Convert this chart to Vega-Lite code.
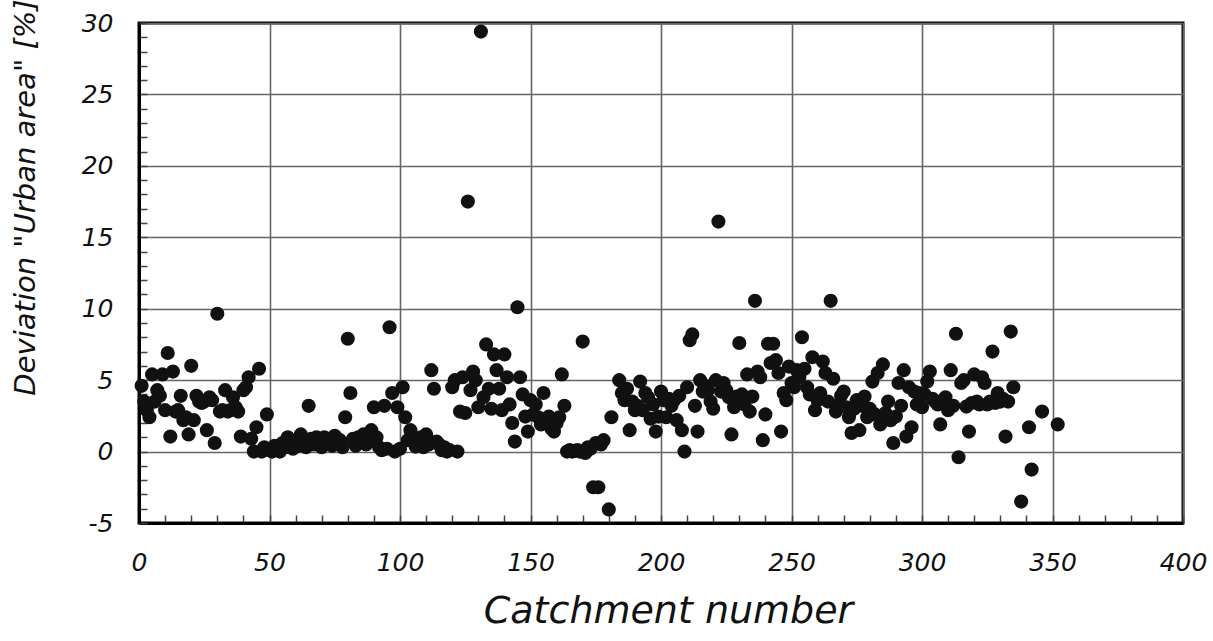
{
  "$schema": "https://vega.github.io/schema/vega-lite/v6.json",
  "width": 1044,
  "height": 500,
  "autosize": "none",
  "padding": {"left": 139, "top": 23, "right": 30, "bottom": 118},
  "background": "white",
  "config": {"view": {"stroke": "#000", "strokeWidth": 3}},
  "data": {"values": [
    {"catchment":1,"deviation":4.6},{"catchment":2,"deviation":3.5},{"catchment":3,"deviation":2.9},{"catchment":4,"deviation":2.4},{"catchment":5,"deviation":5.4},{"catchment":6,"deviation":3.5},{"catchment":7,"deviation":4.3},{"catchment":8,"deviation":3.9},{"catchment":9,"deviation":5.4},{"catchment":10,"deviation":2.9},
    {"catchment":11,"deviation":6.9},{"catchment":12,"deviation":1.05},{"catchment":13,"deviation":5.6},{"catchment":14,"deviation":2.8},{"catchment":15,"deviation":2.9},{"catchment":16,"deviation":3.9},{"catchment":17,"deviation":2.2},{"catchment":18,"deviation":2.4},{"catchment":19,"deviation":1.2},{"catchment":20,"deviation":6.0},
    {"catchment":21,"deviation":2.2},{"catchment":22,"deviation":3.9},{"catchment":23,"deviation":3.5},{"catchment":24,"deviation":3.4},{"catchment":25,"deviation":3.5},{"catchment":26,"deviation":1.5},{"catchment":27,"deviation":3.8},{"catchment":28,"deviation":3.6},{"catchment":29,"deviation":0.6},{"catchment":30,"deviation":9.65},
    {"catchment":31,"deviation":2.8},{"catchment":32,"deviation":2.9},{"catchment":33,"deviation":4.3},{"catchment":34,"deviation":2.8},{"catchment":35,"deviation":2.9},{"catchment":36,"deviation":3.8},{"catchment":37,"deviation":3.1},{"catchment":38,"deviation":2.8},{"catchment":39,"deviation":1.05},{"catchment":40,"deviation":4.3},
    {"catchment":41,"deviation":4.5},{"catchment":42,"deviation":5.2},{"catchment":43,"deviation":0.9},{"catchment":44,"deviation":0.0},{"catchment":45,"deviation":1.7},{"catchment":46,"deviation":5.8},{"catchment":47,"deviation":0.0},{"catchment":48,"deviation":0.3},{"catchment":49,"deviation":2.6},{"catchment":50,"deviation":0.1},
    {"catchment":51,"deviation":0.0},{"catchment":52,"deviation":0.4},{"catchment":53,"deviation":0.1},{"catchment":54,"deviation":0.0},{"catchment":55,"deviation":0.6},{"catchment":56,"deviation":0.3},{"catchment":57,"deviation":1.0},{"catchment":58,"deviation":0.5},{"catchment":59,"deviation":0.2},{"catchment":60,"deviation":0.7},
    {"catchment":61,"deviation":0.4},{"catchment":62,"deviation":1.2},{"catchment":63,"deviation":0.6},{"catchment":64,"deviation":0.3},{"catchment":65,"deviation":3.2},{"catchment":66,"deviation":0.9},{"catchment":67,"deviation":0.5},{"catchment":68,"deviation":1.0},{"catchment":69,"deviation":0.7},{"catchment":70,"deviation":0.3},
    {"catchment":71,"deviation":1.0},{"catchment":72,"deviation":0.6},{"catchment":73,"deviation":0.9},{"catchment":74,"deviation":0.4},{"catchment":75,"deviation":1.1},{"catchment":76,"deviation":0.6},{"catchment":77,"deviation":0.8},{"catchment":78,"deviation":0.3},{"catchment":79,"deviation":2.4},{"catchment":80,"deviation":7.9},
    {"catchment":81,"deviation":4.1},{"catchment":82,"deviation":0.9},{"catchment":83,"deviation":0.4},{"catchment":84,"deviation":1.0},{"catchment":85,"deviation":0.7},{"catchment":86,"deviation":1.2},{"catchment":87,"deviation":0.5},{"catchment":88,"deviation":0.8},{"catchment":89,"deviation":1.5},{"catchment":90,"deviation":3.1},
    {"catchment":91,"deviation":1.0},{"catchment":92,"deviation":0.3},{"catchment":93,"deviation":0.1},{"catchment":94,"deviation":3.2},{"catchment":95,"deviation":0.2},{"catchment":96,"deviation":8.7},{"catchment":97,"deviation":4.1},{"catchment":98,"deviation":0.0},{"catchment":99,"deviation":3.1},{"catchment":100,"deviation":0.2},
    {"catchment":101,"deviation":4.5},{"catchment":102,"deviation":2.4},{"catchment":103,"deviation":0.8},{"catchment":104,"deviation":1.5},{"catchment":105,"deviation":0.9},{"catchment":106,"deviation":0.35},{"catchment":107,"deviation":0.6},{"catchment":108,"deviation":1.0},{"catchment":109,"deviation":0.3},{"catchment":110,"deviation":1.2},
    {"catchment":111,"deviation":0.5},{"catchment":112,"deviation":5.7},{"catchment":113,"deviation":4.4},{"catchment":114,"deviation":0.7},{"catchment":115,"deviation":0.5},{"catchment":116,"deviation":0.1},{"catchment":117,"deviation":0.3},{"catchment":118,"deviation":0.0},{"catchment":119,"deviation":0.1},{"catchment":120,"deviation":4.5},
    {"catchment":121,"deviation":5.0},{"catchment":122,"deviation":0.0},{"catchment":123,"deviation":2.8},{"catchment":124,"deviation":5.2},{"catchment":125,"deviation":2.7},{"catchment":126,"deviation":17.5},{"catchment":127,"deviation":4.3},{"catchment":128,"deviation":5.6},{"catchment":129,"deviation":5.0},{"catchment":130,"deviation":3.1},
    {"catchment":131,"deviation":29.4},{"catchment":132,"deviation":3.8},{"catchment":133,"deviation":7.5},{"catchment":134,"deviation":4.4},{"catchment":135,"deviation":3.0},{"catchment":136,"deviation":6.8},{"catchment":137,"deviation":5.7},{"catchment":138,"deviation":4.4},{"catchment":139,"deviation":2.9},{"catchment":140,"deviation":6.8},
    {"catchment":141,"deviation":5.2},{"catchment":142,"deviation":3.3},{"catchment":143,"deviation":2.0},{"catchment":144,"deviation":0.7},{"catchment":145,"deviation":10.1},{"catchment":146,"deviation":5.2},{"catchment":147,"deviation":4.0},{"catchment":148,"deviation":2.45},{"catchment":149,"deviation":1.4},{"catchment":150,"deviation":3.6},
    {"catchment":151,"deviation":2.6},{"catchment":152,"deviation":3.3},{"catchment":153,"deviation":2.4},{"catchment":154,"deviation":1.9},{"catchment":155,"deviation":4.1},{"catchment":156,"deviation":2.1},{"catchment":157,"deviation":2.45},{"catchment":158,"deviation":1.6},{"catchment":159,"deviation":1.4},{"catchment":160,"deviation":2.0},
    {"catchment":161,"deviation":2.4},{"catchment":162,"deviation":5.4},{"catchment":163,"deviation":3.2},{"catchment":164,"deviation":0.0},{"catchment":165,"deviation":0.1},{"catchment":166,"deviation":0.0},{"catchment":167,"deviation":0.05},{"catchment":168,"deviation":0.1},{"catchment":169,"deviation":0.0},{"catchment":170,"deviation":7.7},
    {"catchment":171,"deviation":-0.1},{"catchment":172,"deviation":0.3},{"catchment":173,"deviation":0.2},{"catchment":174,"deviation":-2.5},{"catchment":175,"deviation":0.6},{"catchment":176,"deviation":-2.5},{"catchment":177,"deviation":0.5},{"catchment":178,"deviation":0.8},{"catchment":180,"deviation":-4.05},{"catchment":181,"deviation":2.4},
    {"catchment":184,"deviation":5.0},{"catchment":185,"deviation":4.1},{"catchment":186,"deviation":3.6},{"catchment":187,"deviation":4.4},{"catchment":188,"deviation":1.5},{"catchment":189,"deviation":3.5},{"catchment":190,"deviation":2.9},{"catchment":191,"deviation":3.2},{"catchment":192,"deviation":4.9},{"catchment":193,"deviation":2.9},
    {"catchment":194,"deviation":4.1},{"catchment":195,"deviation":3.8},{"catchment":196,"deviation":2.3},{"catchment":197,"deviation":3.3},{"catchment":198,"deviation":1.4},{"catchment":199,"deviation":2.45},{"catchment":200,"deviation":4.2},{"catchment":201,"deviation":3.6},{"catchment":202,"deviation":2.4},{"catchment":203,"deviation":3.7},
    {"catchment":204,"deviation":3.2},{"catchment":205,"deviation":3.6},{"catchment":206,"deviation":2.2},{"catchment":207,"deviation":3.9},{"catchment":208,"deviation":1.5},{"catchment":209,"deviation":0.0},{"catchment":210,"deviation":4.5},{"catchment":211,"deviation":7.8},{"catchment":212,"deviation":8.2},{"catchment":213,"deviation":3.2},
    {"catchment":214,"deviation":1.4},{"catchment":215,"deviation":5.0},{"catchment":216,"deviation":4.2},{"catchment":217,"deviation":4.6},{"catchment":218,"deviation":4.3},{"catchment":219,"deviation":3.5},{"catchment":220,"deviation":3.0},{"catchment":221,"deviation":5.0},{"catchment":222,"deviation":16.1},{"catchment":223,"deviation":4.2},
    {"catchment":224,"deviation":4.8},{"catchment":225,"deviation":4.3},{"catchment":226,"deviation":3.8},{"catchment":227,"deviation":1.2},{"catchment":228,"deviation":3.1},{"catchment":229,"deviation":3.85},{"catchment":230,"deviation":7.6},{"catchment":231,"deviation":4.0},{"catchment":232,"deviation":3.3},{"catchment":233,"deviation":5.4},
    {"catchment":234,"deviation":2.8},{"catchment":235,"deviation":3.85},{"catchment":236,"deviation":10.55},{"catchment":237,"deviation":5.6},{"catchment":238,"deviation":5.2},{"catchment":239,"deviation":0.8},{"catchment":240,"deviation":2.6},{"catchment":241,"deviation":7.55},{"catchment":242,"deviation":6.2},{"catchment":243,"deviation":7.55},
    {"catchment":244,"deviation":6.4},{"catchment":245,"deviation":5.5},{"catchment":246,"deviation":1.4},{"catchment":247,"deviation":4.1},{"catchment":248,"deviation":3.6},{"catchment":249,"deviation":5.95},{"catchment":250,"deviation":4.8},{"catchment":251,"deviation":4.5},{"catchment":252,"deviation":5.7},{"catchment":253,"deviation":5.2},
    {"catchment":254,"deviation":8.0},{"catchment":255,"deviation":5.8},{"catchment":256,"deviation":4.5},{"catchment":257,"deviation":4.0},{"catchment":258,"deviation":6.6},{"catchment":259,"deviation":2.9},{"catchment":260,"deviation":3.6},{"catchment":261,"deviation":4.1},{"catchment":262,"deviation":6.3},{"catchment":263,"deviation":5.5},
    {"catchment":264,"deviation":3.5},{"catchment":265,"deviation":10.55},{"catchment":266,"deviation":5.1},{"catchment":267,"deviation":2.8},{"catchment":268,"deviation":3.3},{"catchment":269,"deviation":3.9},{"catchment":270,"deviation":4.2},{"catchment":271,"deviation":3.1},{"catchment":272,"deviation":2.4},{"catchment":273,"deviation":1.3},
    {"catchment":274,"deviation":3.0},{"catchment":275,"deviation":3.6},{"catchment":276,"deviation":1.5},{"catchment":277,"deviation":3.2},{"catchment":278,"deviation":3.85},{"catchment":279,"deviation":2.4},{"catchment":280,"deviation":3.0},{"catchment":281,"deviation":4.9},{"catchment":282,"deviation":2.6},{"catchment":283,"deviation":5.5},
    {"catchment":284,"deviation":1.9},{"catchment":285,"deviation":6.1},{"catchment":286,"deviation":2.7},{"catchment":287,"deviation":3.5},{"catchment":288,"deviation":2.2},{"catchment":289,"deviation":0.6},{"catchment":290,"deviation":2.45},{"catchment":291,"deviation":4.8},{"catchment":292,"deviation":3.2},{"catchment":293,"deviation":5.7},
    {"catchment":294,"deviation":1.05},{"catchment":295,"deviation":4.5},{"catchment":296,"deviation":1.7},{"catchment":297,"deviation":4.2},{"catchment":298,"deviation":3.3},{"catchment":299,"deviation":4.1},{"catchment":300,"deviation":3.1},{"catchment":301,"deviation":4.0},{"catchment":302,"deviation":4.9},{"catchment":303,"deviation":5.6},
    {"catchment":304,"deviation":3.7},{"catchment":305,"deviation":3.5},{"catchment":306,"deviation":3.3},{"catchment":307,"deviation":1.9},{"catchment":308,"deviation":3.6},{"catchment":309,"deviation":3.8},{"catchment":310,"deviation":2.9},{"catchment":311,"deviation":5.7},{"catchment":312,"deviation":3.2},{"catchment":313,"deviation":8.25},
    {"catchment":314,"deviation":-0.4},{"catchment":315,"deviation":4.8},{"catchment":316,"deviation":5.0},{"catchment":317,"deviation":3.15},{"catchment":318,"deviation":1.4},{"catchment":319,"deviation":3.4},{"catchment":320,"deviation":5.4},{"catchment":321,"deviation":3.5},{"catchment":322,"deviation":3.3},{"catchment":323,"deviation":5.2},
    {"catchment":324,"deviation":4.8},{"catchment":325,"deviation":3.3},{"catchment":326,"deviation":3.5},{"catchment":327,"deviation":7.0},{"catchment":328,"deviation":3.4},{"catchment":329,"deviation":4.1},{"catchment":330,"deviation":3.5},{"catchment":331,"deviation":3.7},{"catchment":332,"deviation":1.05},{"catchment":333,"deviation":3.5},
    {"catchment":334,"deviation":8.4},{"catchment":335,"deviation":4.5},{"catchment":338,"deviation":-3.5},{"catchment":341,"deviation":1.7},{"catchment":342,"deviation":-1.26},{"catchment":346,"deviation":2.8},{"catchment":352,"deviation":1.9}
  ]},
  "mark": {"type": "point", "filled": true, "shape": "circle", "size": 200, "color": "#111", "opacity": 1},
  "encoding": {
    "x": {
      "field": "catchment", "type": "quantitative",
      "scale": {"domain": [0, 400], "nice": false, "zero": false},
      "axis": {
        "values": [0,10,20,30,40,50,60,70,80,90,100,110,120,130,140,150,160,170,180,190,200,210,220,230,240,250,260,270,280,290,300,310,320,330,340,350,360,370,380,390,400],
        "labelExpr": "datum.value % 50 === 0 ? '' + datum.value : ''",
        "labelFont": "DejaVu Sans", "labelFontStyle": "italic", "labelFontSize": 25, "labelColor": "#111",
        "labelPadding": 35, "labelFlush": false, "labelOverlap": false, "labelBound": false,
        "tickSize": -8, "tickColor": "#444", "tickWidth": 1.5,
        "grid": true, "gridColor": "#666", "gridWidth": 1.6,
        "gridOpacity": {"condition": {"test": "datum.value % 50 === 0", "value": 1}, "value": 0},
        "domainColor": "#000", "domainWidth": 3,
        "title": "Catchment number",
        "titleFont": "DejaVu Sans", "titleFontStyle": "italic", "titleFontWeight": "normal", "titleFontSize": 38, "titleColor": "#111",
        "titleAlign": "center", "titleBaseline": "alphabetic", "titleX": 529, "titleY": 99
      }
    },
    "y": {
      "field": "deviation", "type": "quantitative",
      "scale": {"domain": [-5, 30], "nice": false, "zero": false},
      "axis": {
        "values": [-5,-4,-3,-2,-1,0,1,2,3,4,5,6,7,8,9,10,11,12,13,14,15,16,17,18,19,20,21,22,23,24,25,26,27,28,29,30],
        "labelExpr": "datum.value % 5 === 0 ? '' + datum.value : ''",
        "labelFont": "DejaVu Sans", "labelFontStyle": "italic", "labelFontSize": 25, "labelColor": "#111",
        "labelPadding": 34, "labelFlush": false, "labelOverlap": false, "labelBound": false,
        "tickSize": -8, "tickColor": "#444", "tickWidth": 1.5,
        "grid": true, "gridColor": "#666", "gridWidth": 1.6,
        "gridOpacity": {"condition": {"test": "datum.value % 5 === 0", "value": 1}, "value": 0},
        "domainColor": "#000", "domainWidth": 3,
        "title": "Deviation \"Urban area\" [%]",
        "titleFont": "DejaVu Sans", "titleFontStyle": "italic", "titleFontWeight": "normal", "titleFontSize": 29, "titleColor": "#111",
        "titleAngle": -90, "titleAlign": "center", "titleBaseline": "middle", "titleX": -114, "titleY": 174
      }
    }
  }
}
